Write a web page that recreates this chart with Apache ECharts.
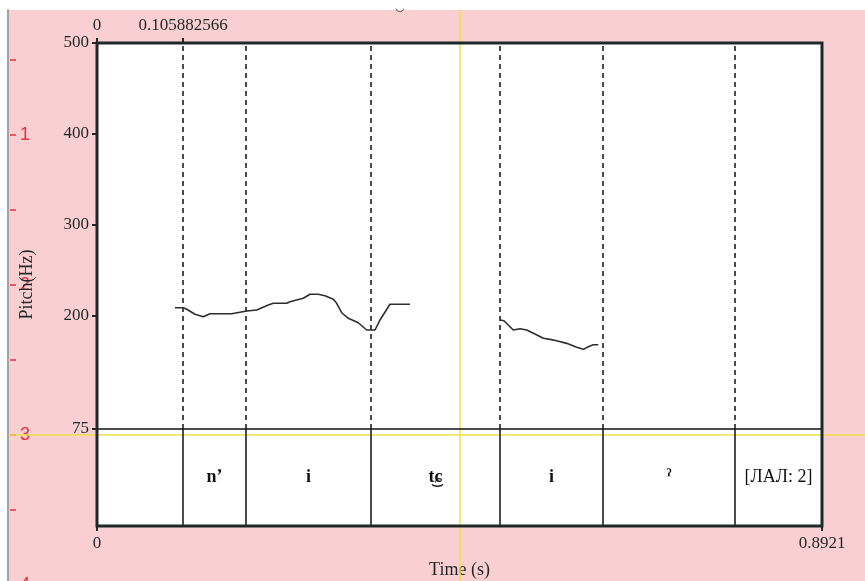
<!DOCTYPE html>
<html>
<head>
<meta charset="utf-8">
<script src="https://cdn.jsdelivr.net/npm/echarts@6/dist/echarts.min.js"></script>
<style>
html, body { margin: 0; padding: 0; background: #ffffff; }
#chart { width: 865px; height: 581px; }
</style>
</head>
<body>
<div id="chart"></div>
<script>
// Time span of the sound and the selection / cursor positions (seconds)
const totalDuration = 0.8921;
const selectionStart = 0.105882566;
const cursorTime = 0.4467;
// Cursor position on the tier-number ruler at the left edge
const cursorTierValue = 3;

// Pitch axis ticks (Hz)
const pitchTicks = [75, 200, 300, 400, 500];
const bottomTimeTicks = [0, 0.8921];
const topTimeTicks = [0, 0.105882566];

// Interval tier: boundaries (s) and the text of each interval
const boundaries = [0.105882566, 0.1833, 0.3371, 0.4959, 0.6226, 0.7850];
const intervalLabels = ['', 'nʼ', 'i', 't͜ɕ', 'i', 'ˀ', '[ЛАЛ: 2]'];

// Pitch contour, voiced stretch 1: [time (s), F0 (Hz)]
const pitchSeg1 = [
  [0.0960, 208.5], [0.1062, 208.5], [0.1104, 206.8], [0.1206, 201.3],
  [0.1308, 198.6], [0.1390, 201.9], [0.1657, 201.9], [0.1842, 204.9],
  [0.1965, 206.0], [0.2108, 211.5], [0.2169, 213.4], [0.2334, 213.4],
  [0.2375, 215.2], [0.2538, 218.9], [0.2621, 223.3], [0.2723, 223.3],
  [0.2805, 221.8], [0.2908, 217.8], [0.2949, 213.4], [0.3011, 203.0],
  [0.3092, 196.9], [0.3215, 192.0], [0.3319, 184.0], [0.3421, 184.0],
  [0.3482, 195.0], [0.3605, 212.3], [0.3851, 212.3]
];
// Pitch contour, voiced stretch 2
const pitchSeg2 = [
  [0.4959, 195.0], [0.5008, 194.2], [0.5122, 184.0], [0.5205, 185.4],
  [0.5287, 184.0], [0.5389, 179.6], [0.5492, 174.9], [0.5574, 173.7],
  [0.5656, 172.2], [0.5780, 169.3], [0.5903, 164.9], [0.5985, 162.7],
  [0.6046, 165.6], [0.6107, 167.8], [0.6168, 167.8]
];

const SERIF = "'Liberation Serif', 'DejaVu Serif', serif";
const INK = '#1f2828';
const PINK = '#f9cfd1';
const YELLOW = '#ece04a';
const RED = '#e2343c';

// Interval midpoints for the tier texts
const edges = [0].concat(boundaries, [totalDuration]);
const tierTexts = intervalLabels.map((txt, i) => ({
  value: [(edges[i] + edges[i + 1]) / 2, 0.5],
  name: txt,
  label: { fontWeight: txt.startsWith('[') ? 'normal' : 'bold' }
})).filter(d => d.name !== '');

const plotBox = { left: 97, right: 43, top: 43, bottom: 55 };
const hidden = { show: false };
const fixedGrid = { outerBoundsMode: 'none', containLabel: false };

// Vertical / horizontal rules at exact axis values (no rounding of positions)
function rules(color, type, items) {
  return {
    silent: true, symbol: 'none', label: hidden, animation: false, precision: 10,
    lineStyle: { color: color, width: 1.5, type: type },
    emphasis: { disabled: true },
    data: items
  };
}

const chart = echarts.init(document.getElementById('chart'), null, { renderer: 'canvas' });

chart.setOption({
  animation: false,
  backgroundColor: '#ffffff',
  title: {
    text: '‿',
    left: 390,
    top: -9,
    textStyle: { fontFamily: SERIF, fontSize: 16, fontWeight: 'normal', color: '#3a4a5a' }
  },
  grid: [
    // 0: pink picture background
    Object.assign({ left: 8, top: 10, right: 0, bottom: 0, show: true, backgroundColor: PINK, borderWidth: 0, z: 0 }, fixedGrid),
    // 1: tier-number ruler on the left edge
    Object.assign({ left: 10, top: -15, height: 600, right: 0, z: 1 }, fixedGrid),
    // 2: white plot area
    Object.assign({ show: true, backgroundColor: '#ffffff', borderWidth: 0, z: 1 }, plotBox, fixedGrid),
    // 3: cursor line, full height
    Object.assign({ left: plotBox.left, right: plotBox.right, top: 10, bottom: 0, z: 1 }, fixedGrid),
    // 4: pitch panel
    Object.assign({ left: plotBox.left, right: plotBox.right, top: plotBox.top, height: 386, z: 1 }, fixedGrid),
    // 5: interval tier
    Object.assign({ left: plotBox.left, right: plotBox.right, top: 429, bottom: plotBox.bottom, z: 1 }, fixedGrid),
    // 6: heavy frame on top
    Object.assign({ show: true, backgroundColor: 'transparent', borderColor: INK, borderWidth: 3, z: 10 }, plotBox, fixedGrid)
  ],
  xAxis: [
    { gridIndex: 0, type: 'value', min: 0, max: 1, show: false },
    { gridIndex: 1, type: 'value', min: 0, max: 1, show: false },
    {
      gridIndex: 2, type: 'value', position: 'bottom', min: 0, max: totalDuration,
      axisLine: hidden, splitLine: hidden,
      axisTick: { show: true, customValues: bottomTimeTicks, length: 5, lineStyle: { color: INK, width: 2 } },
      axisLabel: {
        show: true, customValues: bottomTimeTicks, showMinLabel: true, showMaxLabel: true,
        margin: 9, color: INK, fontFamily: SERIF, fontSize: 17, formatter: v => String(v)
      },
      name: 'Time (s)', nameLocation: 'middle', nameGap: 35,
      nameTextStyle: { fontFamily: SERIF, fontSize: 18, color: INK }
    },
    {
      gridIndex: 2, type: 'value', position: 'top', min: 0, max: totalDuration,
      axisLine: hidden, splitLine: hidden,
      axisTick: { show: true, customValues: topTimeTicks, length: 5, lineStyle: { color: INK, width: 2 } },
      axisLabel: {
        show: true, customValues: topTimeTicks, showMinLabel: true, showMaxLabel: true,
        margin: 9, color: INK, fontFamily: SERIF, fontSize: 17, formatter: v => String(v)
      }
    },
    { gridIndex: 3, type: 'value', min: 0, max: totalDuration, show: false },
    {
      gridIndex: 4, type: 'value', min: 0, max: totalDuration, z: 5,
      axisLine: { show: true, onZero: false, lineStyle: { color: '#111111', width: 1.5 } },
      axisTick: hidden, axisLabel: hidden, splitLine: hidden
    },
    { gridIndex: 5, type: 'value', min: 0, max: totalDuration, show: false }
  ],
  yAxis: [
    {
      gridIndex: 0, type: 'value', min: 0, max: 1,
      axisLine: { show: true, lineStyle: { color: '#a2a2a2', width: 2 } },
      axisTick: hidden, axisLabel: hidden, splitLine: hidden
    },
    {
      gridIndex: 1, type: 'value', inverse: true, min: 0, max: 4, interval: 0.5, z: 2,
      axisLine: hidden, splitLine: hidden,
      axisTick: { show: true, inside: true, length: 6, lineStyle: { color: RED, width: 1.5 } },
      axisLabel: {
        show: true, inside: true, margin: 10, color: RED,
        fontFamily: "'Liberation Sans', Arial, sans-serif", fontSize: 18,
        showMinLabel: false, showMaxLabel: true,
        formatter: v => (Number.isInteger(v) && v > 0) ? String(v) : ''
      }
    },
    {
      gridIndex: 2, type: 'value', min: 0, max: 1,
      axisLine: hidden, axisTick: hidden, axisLabel: hidden, splitLine: hidden,
      name: 'Pitch(Hz)', nameLocation: 'middle', nameGap: 61, z: 6,
      nameTextStyle: { fontFamily: SERIF, fontSize: 18, color: INK }
    },
    { gridIndex: 3, type: 'value', min: 0, max: 1, show: false },
    {
      gridIndex: 4, type: 'value', min: 75, max: 500,
      axisLine: hidden, splitLine: hidden,
      axisTick: { show: true, customValues: pitchTicks, length: 5, lineStyle: { color: INK, width: 2 } },
      axisLabel: {
        show: true, customValues: pitchTicks, margin: 8, color: INK,
        fontFamily: SERIF, fontSize: 17
      }
    },
    { gridIndex: 5, type: 'value', min: 0, max: 1, show: false }
  ],
  series: [
    // horizontal cursor on the tier ruler
    {
      type: 'line', xAxisIndex: 1, yAxisIndex: 1, data: [], z: 3,
      markLine: rules(YELLOW, 'solid', [{ yAxis: cursorTierValue }])
    },
    // vertical time cursor
    {
      type: 'line', xAxisIndex: 4, yAxisIndex: 3, data: [], z: 3,
      markLine: rules(YELLOW, 'solid', [{ xAxis: cursorTime }])
    },
    // dashed boundaries through the pitch panel
    {
      type: 'line', xAxisIndex: 5, yAxisIndex: 4, data: [], z: 4,
      markLine: rules('#111111', [5, 4], boundaries.map(b => ({ xAxis: b })))
    },
    // solid boundaries in the tier
    {
      type: 'line', xAxisIndex: 6, yAxisIndex: 5, data: [], z: 4,
      markLine: rules('#111111', 'solid', boundaries.map(b => ({ xAxis: b })))
    },
    // pitch contour
    {
      type: 'line', xAxisIndex: 5, yAxisIndex: 4, data: pitchSeg1, z: 5,
      symbol: 'none', lineStyle: { color: '#2e2e2e', width: 1.6 }
    },
    {
      type: 'line', xAxisIndex: 5, yAxisIndex: 4, data: pitchSeg2, z: 5,
      symbol: 'none', lineStyle: { color: '#2e2e2e', width: 1.6 }
    },
    // interval texts
    {
      type: 'scatter', xAxisIndex: 6, yAxisIndex: 5, z: 6,
      symbolSize: 1, itemStyle: { color: 'rgba(0,0,0,0)' },
      data: tierTexts,
      label: {
        show: true, position: 'inside', color: '#111111', opacity: 1,
        fontFamily: SERIF, fontSize: 18,
        formatter: p => p.name
      },
      emphasis: { disabled: true }
    }
  ]
});
</script>
</body>
</html>
